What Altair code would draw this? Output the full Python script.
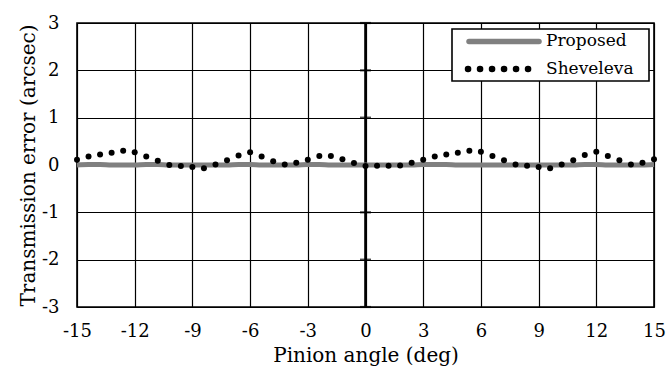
import altair as alt
import pandas as pd

# Pinion angle samples (deg)
angles = [-15.0, -14.4, -13.8, -13.2, -12.6, -12.0, -11.4, -10.8, -10.2, -9.6,
          -9.0, -8.4, -7.8, -7.2, -6.6, -6.0, -5.4, -4.8, -4.2, -3.6,
          -3.0, -2.4, -1.8, -1.2, -0.6, 0.0, 0.6, 1.2, 1.8, 2.4,
          3.0, 3.6, 4.2, 4.8, 5.4, 6.0, 6.6, 7.2, 7.8, 8.4,
          9.0, 9.6, 10.2, 10.8, 11.4, 12.0, 12.6, 13.2, 13.8, 14.4, 15.0]

sheveleva = [0.11, 0.18, 0.22, 0.26, 0.30, 0.27, 0.18, 0.09, 0.00, -0.02,
             -0.04, -0.07, 0.01, 0.10, 0.20, 0.27, 0.18, 0.08, 0.01, 0.05,
             0.11, 0.19, 0.19, 0.12, 0.04, -0.02, -0.015, -0.015, -0.01, 0.05,
             0.11, 0.18, 0.22, 0.26, 0.30, 0.28, 0.19, 0.10, 0.01, -0.015,
             -0.04, -0.07, 0.01, 0.10, 0.21, 0.28, 0.19, 0.10, 0.01, 0.05, 0.12]

proposed = [0.0, 0.01, 0.01, 0.0, 0.0, 0.0, 0.01, 0.01, 0.0, 0.0,
            0.0, 0.0, 0.0, 0.0, 0.01, 0.01, 0.0, 0.0, 0.0, 0.0,
            0.01, 0.01, 0.0, 0.0, 0.0, 0.0, 0.0, 0.0, 0.0, 0.0,
            0.01, 0.01, 0.01, 0.0, 0.0, 0.0, 0.0, 0.0, 0.0, 0.0,
            0.0, 0.0, 0.0, 0.0, 0.01, 0.01, 0.0, 0.0, 0.0, 0.0, 0.01]

x_ticks = [-15, -12, -9, -6, -3, 0, 3, 6, 9, 12, 15]
y_ticks = [-3, -2, -1, 0, 1, 2, 3]

FONT = "DejaVu Serif"
LFS = 18   # tick labels
TFS = 20   # axis titles
LEGFS = 17
W, H = 577, 284

df = pd.DataFrame({"angle": angles, "Sheveleva": sheveleva, "Proposed": proposed})

xscale = alt.Scale(domain=[-15, 15], nice=False, zero=False)
yscale = alt.Scale(domain=[-3, 3], nice=False, zero=False)

common = dict(grid=True, gridColor="black", gridWidth=1.2, ticks=False, domain=False,
              labelExpr="'' + datum.value", labelFlush=False, labelOverlap=False, labelBound=False,
              labelFont=FONT, labelFontSize=LFS, labelColor="black",
              titleFont=FONT, titleFontSize=TFS, titleFontWeight="normal", titleColor="black")

xaxis = alt.Axis(values=x_ticks, title="Pinion angle (deg)", labelPadding=15, titlePadding=5, **common)
yaxis = alt.Axis(values=y_ticks, title="Transmission error (arcsec)", labelPadding=18, titlePadding=3, **common)

base = alt.Chart(df)

grid_layer = base.mark_point(opacity=0).encode(
    x=alt.X("angle:Q", scale=xscale, axis=xaxis),
    y=alt.Y("Sheveleva:Q", scale=yscale, axis=yaxis),
)

# central (x = 0) axis line with small ticks
zero_df = pd.DataFrame({"x0": [0]})
zero_line = alt.Chart(zero_df).mark_rule(color="black", strokeWidth=2.6).encode(
    x=alt.X("x0:Q", scale=xscale), y=alt.value(0), y2=alt.value(H)
)
tick_df = pd.DataFrame({"x0": [0] * len(y_ticks), "yv": y_ticks})
zero_ticks = alt.Chart(tick_df).mark_tick(color="black", orient="horizontal", size=11, thickness=2.2).encode(
    x=alt.X("x0:Q", scale=xscale), y=alt.Y("yv:Q", scale=yscale)
)

prop_line = base.mark_line(color="#808080", strokeWidth=5, interpolate="monotone").encode(
    x=alt.X("angle:Q", scale=xscale), y=alt.Y("Proposed:Q", scale=yscale)
)
shev_pts = base.mark_circle(color="black", opacity=1, size=36).encode(
    x=alt.X("angle:Q", scale=xscale), y=alt.Y("Sheveleva:Q", scale=yscale)
)

one = alt.InlineData(values=[{"a": 1}])
leg_box = alt.Chart(one).mark_rect(fill="white", stroke="black", strokeWidth=1.6).encode(
    x=alt.value(375), x2=alt.value(572), y=alt.value(6), y2=alt.value(58)
)
leg_line = alt.Chart(one).mark_rule(color="#808080", strokeWidth=5.5, strokeCap="round").encode(
    x=alt.value(392), x2=alt.value(462), y=alt.value(18.5)
)
leg_dots = alt.Chart(one).mark_rule(color="black", strokeWidth=6.5, strokeCap="round",
                                    strokeDash=[0.1, 11.9]).encode(
    x=alt.value(391), x2=alt.value(452), y=alt.value(46)
)
leg_t1 = alt.Chart(one).mark_text(font=FONT, fontSize=LEGFS, align="left", baseline="middle", color="black").encode(
    x=alt.value(469), y=alt.value(18), text=alt.value("Proposed")
)
leg_t2 = alt.Chart(one).mark_text(font=FONT, fontSize=LEGFS, align="left", baseline="middle", color="black").encode(
    x=alt.value(469), y=alt.value(45.5), text=alt.value("Sheveleva")
)

chart = alt.layer(
    grid_layer, zero_line, zero_ticks, prop_line, shev_pts,
    leg_box, leg_line, leg_dots, leg_t1, leg_t2
).properties(
    width=W, height=H,
    background="white",
    autosize=alt.AutoSizeParams(type="none"),
    padding={"left": 77, "top": 23, "right": 14, "bottom": 63},
).configure_view(
    stroke="black", strokeWidth=1.6
)

chart.save("out.html", embed_options={"renderer": "svg", "actions": False})
